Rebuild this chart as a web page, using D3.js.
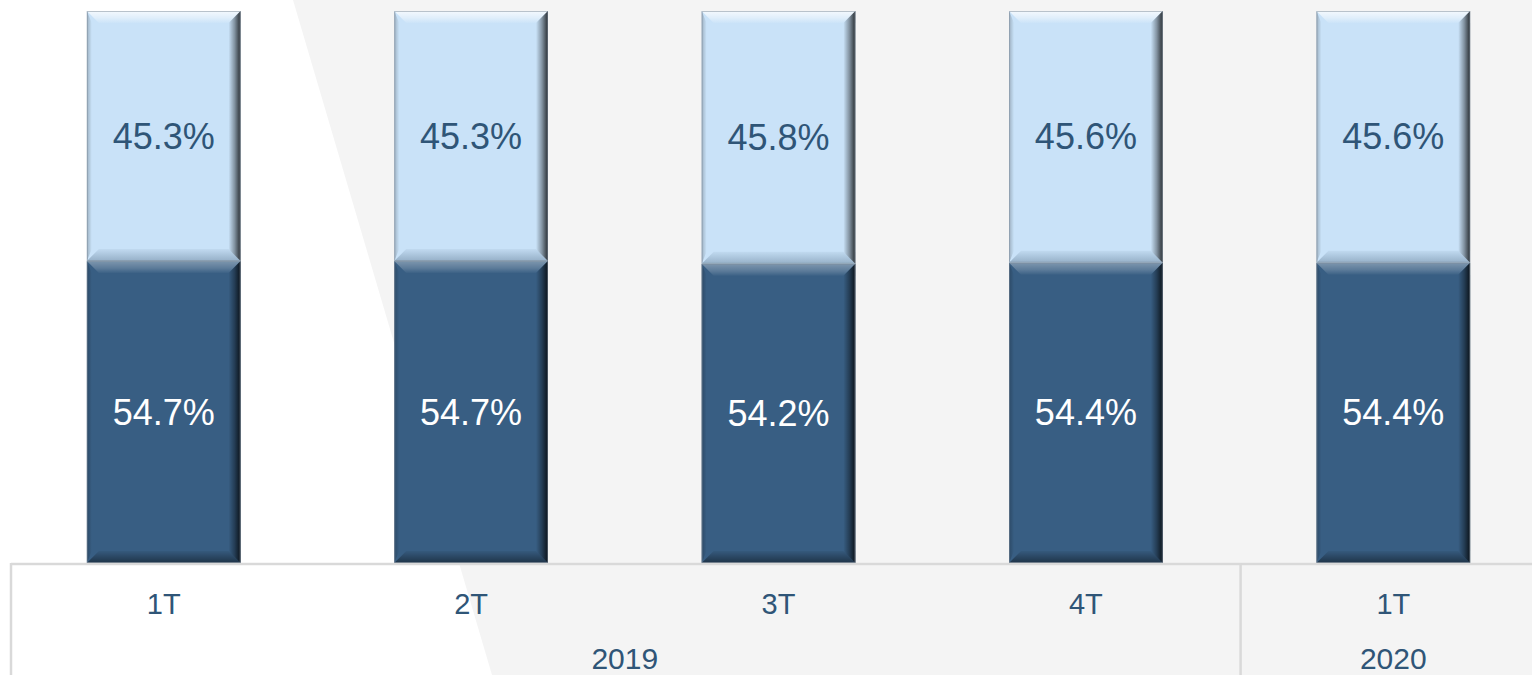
<!DOCTYPE html>
<html>
<head>
<meta charset="utf-8">
<script src="https://cdn.jsdelivr.net/npm/d3@7"></script>
<style>
  html, body { margin: 0; padding: 0; background: #f4f4f4; overflow: hidden; }
  svg { display: block; font-family: "Liberation Sans", Arial, sans-serif; }
</style>
</head>
<body>
<div id="chart"></div>
<script>
// datos
const quarters = ["1T", "2T", "3T", "4T", "1T"];
const years = [
  { label: "2019", from: 0, to: 3 },
  { label: "2020", from: 4, to: 4 }
];
const darkShare = [54.7, 54.7, 54.2, 54.4, 54.4];
const lightShare = [45.3, 45.3, 45.8, 45.6, 45.6];

const width = 1532, height = 675;
const axisY = 563, topY = 11;

const svg = d3.select("#chart").append("svg")
  .attr("width", width)
  .attr("height", height);

const defs = svg.append("defs");

// fondo: blanco a la izquierda de la diagonal, gris a la derecha
svg.append("rect").attr("width", width).attr("height", height).attr("fill", "#f4f4f4");
svg.append("polygon")
  .attr("points", `0,0 293,0 492,${height} 0,${height}`)
  .attr("fill", "#ffffff");

const x = d3.scaleBand()
  .domain(d3.range(quarters.length))
  .range([10, 1547])
  .paddingInner(0.5)
  .paddingOuter(0.25);

const y = d3.scaleLinear().domain([0, 100]).range([axisY, topY]);

// gradientes del bisel
function grad(id, x2, y2, stops) {
  const g = defs.append("linearGradient").attr("id", id)
    .attr("x1", 0).attr("y1", 0).attr("x2", x2).attr("y2", y2);
  stops.forEach(s => g.append("stop").attr("offset", s[0])
    .attr("stop-color", s[1]).attr("stop-opacity", s[2]));
}
grad("bevTopLight", 0, 1, [[0, "#ffffff", 0.8], [0.6, "#ffffff", 0.4], [1, "#ffffff", 0.05]]);
grad("bevTopDark", 0, 1, [[0, "#ffffff", 0.35], [0.6, "#ffffff", 0.18], [1, "#ffffff", 0.02]]);
grad("bevBottomLight", 0, 1, [[0, "#1d3a56", 0.05], [1, "#1d3a56", 0.3]]);
grad("bevBottomDark", 0, 1, [[0, "#000000", 0.05], [1, "#000000", 0.45]]);
grad("bevLeft", 1, 0, [[0, "#000000", 0.22], [1, "#000000", 0.0]]);
grad("bevRight", 1, 0, [[0, "#000000", 0.0], [0.5, "#000000", 0.35], [1, "#000000", 0.8]]);

const segments = [];
quarters.forEach((q, i) => {
  segments.push({ i, y0: 0, y1: darkShare[i], value: darkShare[i], fill: "#385e83", text: "#ffffff", kind: "Dark" });
  segments.push({ i, y0: darkShare[i], y1: darkShare[i] + lightShare[i], value: lightShare[i], fill: "#c9e2f8", text: "#2f5577", kind: "Light" });
});

const b = 12;
const bars = svg.append("g");
segments.forEach(s => {
  const bx = x(s.i), bw = x.bandwidth();
  const by = y(s.y1), bh = y(s.y0) - y(s.y1);
  const g = bars.append("g");
  g.append("rect").attr("x", bx).attr("y", by).attr("width", bw).attr("height", bh)
    .attr("fill", s.fill);
  g.append("polygon").attr("fill", `url(#bevTop${s.kind})`)
    .attr("points", `${bx},${by} ${bx + bw},${by} ${bx + bw - b},${by + b} ${bx + b},${by + b}`);
  g.append("polygon").attr("fill", `url(#bevBottom${s.kind})`)
    .attr("points", `${bx},${by + bh} ${bx + b},${by + bh - b} ${bx + bw - b},${by + bh - b} ${bx + bw},${by + bh}`);
  g.append("polygon").attr("fill", "url(#bevLeft)")
    .attr("points", `${bx},${by} ${bx + 5},${by + b} ${bx + 5},${by + bh - b} ${bx},${by + bh}`);
  g.append("polygon").attr("fill", "url(#bevRight)")
    .attr("points", `${bx + bw},${by} ${bx + bw - b},${by + b} ${bx + bw - b},${by + bh - b} ${bx + bw},${by + bh}`);
  g.append("rect").attr("x", bx + 0.5).attr("y", by + 0.5).attr("width", bw - 1).attr("height", bh - 1)
    .attr("fill", "none").attr("stroke", "#7d8b99").attr("stroke-opacity", 0.5).attr("stroke-width", 1);
  g.append("text")
    .attr("x", bx + bw / 2)
    .attr("y", by + bh / 2)
    .attr("dy", "0.35em")
    .attr("text-anchor", "middle")
    .attr("font-size", 36)
    .attr("fill", s.text)
    .text(s.value.toFixed(1) + "%");
});

// eje de categorías
const axis = svg.append("g").attr("stroke", "#d9d9d9").attr("stroke-width", 2.5);
axis.append("line").attr("x1", 11).attr("x2", width).attr("y1", axisY + 1).attr("y2", axisY + 1);
[0, 4].forEach(i => {
  const xv = x(i) - x.step() * x.paddingInner() / 2 - (i === 0 ? x.step() * (x.paddingOuter() - x.paddingInner() / 2) : 0);
  axis.append("line").attr("x1", xv + 1).attr("x2", xv + 1).attr("y1", axisY).attr("y2", height);
});

svg.append("g").selectAll("text")
  .data(quarters).enter().append("text")
  .attr("x", (d, i) => x(i) + x.bandwidth() / 2)
  .attr("y", 614)
  .attr("text-anchor", "middle")
  .attr("font-size", 29)
  .attr("fill", "#2f5577")
  .text(d => d);

svg.append("g").selectAll("text")
  .data(years).enter().append("text")
  .attr("x", d => (x(d.from) + x(d.to) + x.bandwidth()) / 2)
  .attr("y", 669)
  .attr("text-anchor", "middle")
  .attr("font-size", 30)
  .attr("fill", "#2f5577")
  .text(d => d.label);
</script>
</body>
</html>
